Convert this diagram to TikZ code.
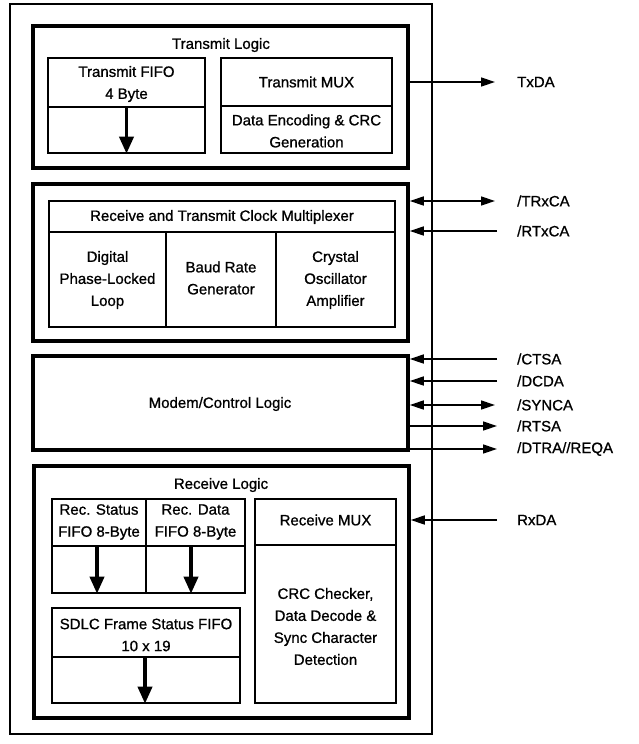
\documentclass[tikz,border=0pt]{standalone}
\usepackage{fontspec}
\setmainfont{Liberation Sans}[FakeBold=0.9]
\usetikzlibrary{arrows.meta,fit}
\begin{document}
\begin{tikzpicture}[x=1pt,y=-1pt,
  outer/.style={draw, line width=1.3pt, inner sep=0pt},
  major/.style={draw, line width=3.5pt, inner sep=0pt},
  minor/.style={draw, line width=1.4pt, inner sep=0pt},
  thinline/.style={line width=1.4pt},
  txt/.style={font=\fontsize{15}{22}\selectfont, align=center, inner sep=0pt},
  lbl/.style={txt, anchor=west},
  sig/.style={line width=1.4pt},
  arr/.style={-{Triangle[length=14pt,width=9pt]}},
  barr/.style={{Triangle[length=14pt,width=9pt]}-{Triangle[length=14pt,width=9pt]}},
  flow/.style={line width=3.7pt, -{Triangle[length=17pt,width=14pt]}}
]
\useasboundingbox (0,0) rectangle (638,744);

% outer chip boundary
\node[outer, fit={(10,4) (432,734)}] (chip) {};

% ---------------- Transmit logic ----------------
\node[major, fit={(33,26) (408,168)}] (txl) {};
\node[txt] (txlt) at (221,45) {Transmit Logic};
\node[minor, fit={(48,58) (205,153)}] (txf) {};
\draw[thinline] (48,107) -- (205,107);
\node[txt] (txft) at (126.5,84) {Transmit FIFO\\4 Byte};
\coordinate (txfa) at (126.5,107);
\draw[flow] (txfa) -- (txfa |- txf.south);
\node[minor, fit={(221,58) (392,153)}] (txm) {};
\draw[thinline] (221,106) -- (392,106);
\node[txt] (txmt) at (306.5,82) {Transmit MUX};
\node[txt] (txet) at (306.5,131) {Data Encoding \& CRC\\Generation};

\coordinate (txdae) at (495,82);
\node[lbl] (txda) at (517,82) {TxDA};
\draw[sig, arr] (txl.east |- txdae) -- (txdae);

% ---------------- Clock multiplexer ----------------
\node[major, fit={(33,184) (408,341)}] (clk) {};
\node[minor, fit={(49,201) (395,327)}] (cmux) {};
\draw[thinline] (49,232) -- (395,232);
\draw[thinline] (166,232) -- (166,327);
\draw[thinline] (276,232) -- (276,327);
\node[txt] (cmuxt) at (222,217) {Receive and Transmit Clock Multiplexer};
\node[txt] (dpll) at (107.5,280) {Digital\\Phase-Locked\\Loop};
\node[txt] (brg) at (221,278) {Baud Rate\\Generator};
\node[txt] (xosc) at (335.5,280) {Crystal\\Oscillator\\Amplifier};

\coordinate (trxe) at (495,201);
\node[lbl] (trxca) at (517,201) {/TRxCA};
\draw[sig, barr] (clk.east |- trxe) -- (trxe);
\coordinate (rtxe) at (497,231);
\node[lbl] (rtxca) at (517,231) {/RTxCA};
\draw[sig, arr] (rtxe) -- (clk.east |- rtxe);

% ---------------- Modem / control ----------------
\node[major, fit={(33,356) (408,450)}] (mod) {};
\node[txt] (modt) at (220,404) {Modem/Control Logic};

\coordinate (ctse) at (497,359);
\node[lbl] (ctsa) at (517,359) {/CTSA};
\draw[sig, arr] (ctse) -- (mod.east |- ctse);
\coordinate (dcde) at (497,381);
\node[lbl] (dcda) at (517,381) {/DCDA};
\draw[sig, arr] (dcde) -- (mod.east |- dcde);
\coordinate (synce) at (495,405);
\node[lbl] (synca) at (517,405) {/SYNCA};
\draw[sig, barr] (mod.east |- synce) -- (synce);
\coordinate (rtse) at (497,426);
\node[lbl] (rtsa) at (517,426) {/RTSA};
\draw[sig, arr] (mod.east |- rtse) -- (rtse);
\coordinate (dtre) at (497,449);
\node[lbl] (dtra) at (517,449) {/DTRA//REQA};
\draw[sig, arr] (mod.east |- dtre) -- (dtre);

% ---------------- Receive logic ----------------
\node[major, fit={(34,466) (409,718)}] (rxl) {};
\node[txt] (rxlt) at (221,485) {Receive Logic};

\node[minor, fit={(52,499) (146,593)}] (rsf) {};
\node[minor, fit={(146,499) (245,593)}] (rdf) {};
\draw[thinline] (52,546) -- (245,546);
\node[txt] (rsft) at (99,522) {Rec. Status\\FIFO 8-Byte};
\node[txt] (rdft) at (195.5,522) {Rec. Data\\FIFO 8-Byte};
\coordinate (rsfa) at (97,546);
\draw[flow] (rsfa) -- (rsfa |- rsf.south);
\coordinate (rdfa) at (191,546);
\draw[flow] (rdfa) -- (rdfa |- rdf.south);

\node[minor, fit={(52,608) (240,703)}] (sdlc) {};
\draw[thinline] (52,657) -- (240,657);
\node[txt] (sdlct) at (146,635) {SDLC Frame Status FIFO\\10 x 19};
\coordinate (sdlca) at (145,657);
\draw[flow] (sdlca) -- (sdlca |- sdlc.south);

\node[minor, fit={(255,499) (396,703)}] (rxm) {};
\draw[thinline] (255,545) -- (396,545);
\node[txt] (rxmt) at (325.5,520) {Receive MUX};
\node[txt] (crct) at (325.5,626.5) {CRC Checker,\\Data Decode \&\\Sync Character\\Detection};

\coordinate (rxde) at (497,520);
\node[lbl] (rxda) at (517,520) {RxDA};
\draw[sig, arr] (rxde) -- (rxl.east |- rxde);

\end{tikzpicture}
\end{document}
